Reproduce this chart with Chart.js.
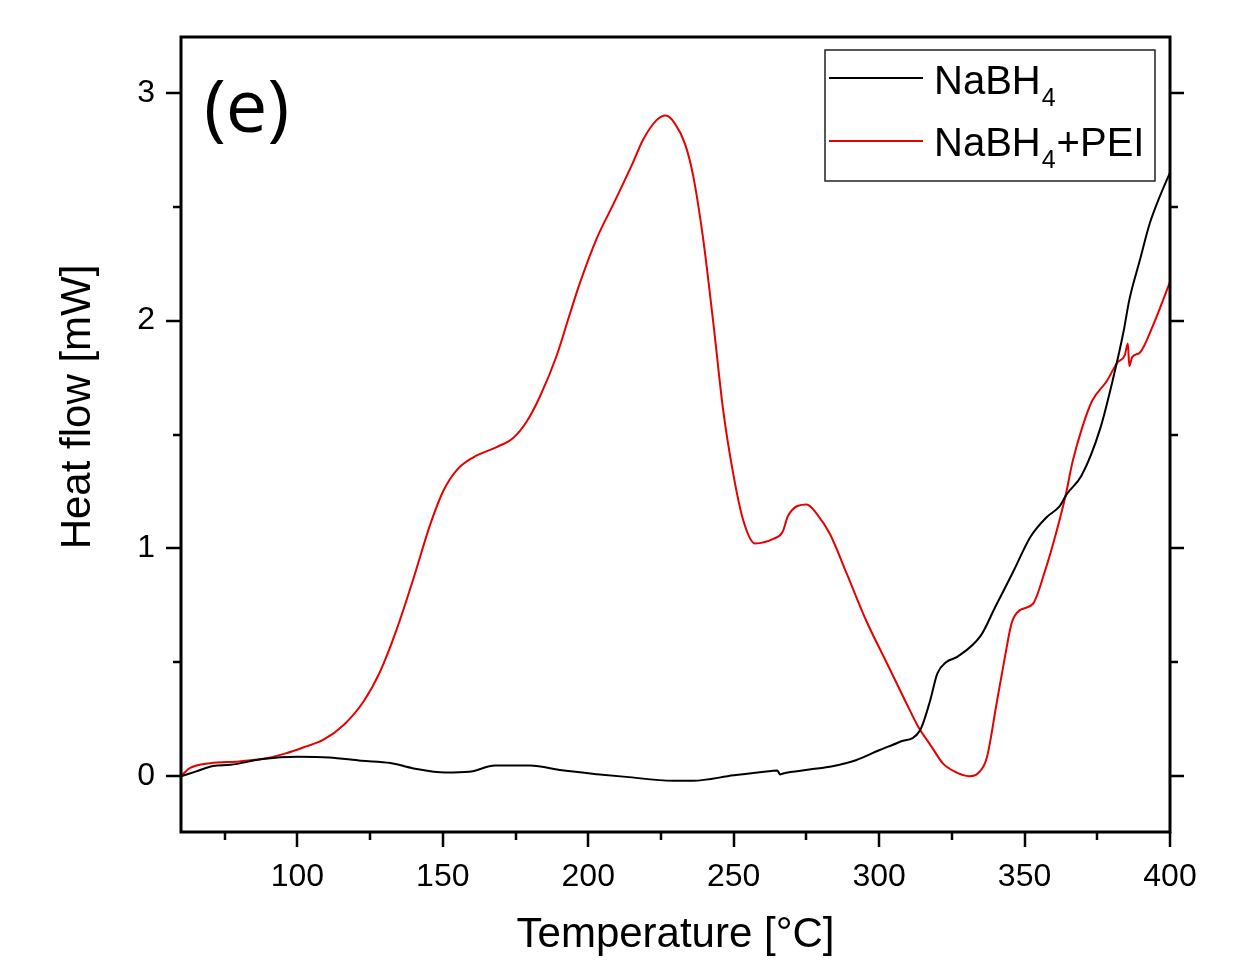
<!DOCTYPE html>
<html><head><meta charset="utf-8">
<script src="https://cdn.jsdelivr.net/npm/chart.js@4.4.1/dist/chart.umd.min.js"></script>
<style>html,body{margin:0;padding:0;background:#fff}#wrap{width:1251px;height:964px;position:relative}</style>
</head><body><div id="wrap"><canvas id="c" width="1251" height="964"></canvas></div>
<script>
// ---- data ----
const tempBlack = [60,65,71,77,88,100,111,122,132,140,151,159,168,180,191,203,213,229,236,250,263,265,266,267,276,284,292,300,307,314,317.5,320,323,327,335,340,346,352,357.6,362,364.5,369.6,376,380.5,384,386,389.7,393,396.5,400];
const heatBlack = [0,0.02,0.045,0.05,0.075,0.085,0.082,0.068,0.058,0.034,0.016,0.019,0.047,0.047,0.026,0.009,-0.003,-0.02,-0.02,0.004,0.023,0.025,0.007,0.012,0.029,0.044,0.07,0.114,0.15,0.2,0.33,0.45,0.5,0.525,0.618,0.745,0.895,1.05,1.137,1.184,1.238,1.32,1.526,1.749,1.95,2.09,2.268,2.425,2.545,2.65];
const tempRed = [60,63,70,80,90,96,102,109,116,122.7,128.4,134,140,145.6,150.2,154.8,160.5,168.5,174.2,178.8,183.4,189.2,193.7,197,202.9,208.6,214.9,218.9,223.5,226.7,229.8,233.3,236.1,239.6,243,246.4,249.9,253.3,257.3,263.6,266.8,268.7,275.1,278.5,283.1,288.8,295.7,302.6,309.5,313.5,318,322,326,331,334,337,340.4,343.3,345.6,348.4,352.9,357,361.1,364.2,366.5,369.7,373.2,378.3,381.8,384.5,385.5,386,387,389.7,394.2,400];
const heatRed = [0,0.035,0.057,0.065,0.08,0.1,0.126,0.16,0.226,0.327,0.458,0.639,0.871,1.102,1.253,1.344,1.4,1.445,1.485,1.556,1.667,1.848,2.03,2.16,2.36,2.51,2.68,2.795,2.88,2.9,2.865,2.775,2.634,2.35,1.99,1.606,1.324,1.123,1.022,1.042,1.072,1.143,1.193,1.153,1.063,0.891,0.679,0.498,0.317,0.216,0.13,0.055,0.02,0.0,0.013,0.08,0.32,0.527,0.674,0.729,0.757,0.9,1.08,1.238,1.38,1.526,1.647,1.735,1.814,1.85,1.9,1.8,1.84,1.86,1.98,2.17];
const seriesLabels = ['NaBH\u2084', 'NaBH\u2084+PEI'];
const seriesColors = ['#000000', '#e60000'];
const xTicks = [100,150,200,250,300,350,400];
const xMinorTicks = [75,125,175,225,275,325,375];
const yTicks = [0,1,2,3];
const yMinorTicks = [0.5,1.5,2.5];
const panelLabel = '(e)';
const xTitle = 'Temperature [\u00B0C]';
const yTitle = 'Heat flow [mW]';

const AR = '"Liberation Sans", Arial, sans-serif';

const framePlugin = {
  id: 'frame',
  afterDatasetsDraw(chart) {
    const {ctx, chartArea: a, scales: {x, y}} = chart;
    ctx.save();
    ctx.strokeStyle = '#000';
    ctx.lineWidth = 3;
    ctx.strokeRect(a.left, a.top, a.right - a.left, a.bottom - a.top);
    ctx.lineWidth = 2.5;
    ctx.beginPath();
    const tick = (x1, y1, x2, y2) => { ctx.moveTo(x1, y1); ctx.lineTo(x2, y2); };
    xTicks.forEach(v => { const p = Math.round(x.getPixelForValue(v)); tick(p, a.bottom, p, a.bottom + 15); });
    xMinorTicks.forEach(v => { const p = Math.round(x.getPixelForValue(v)); tick(p, a.bottom, p, a.bottom + 8); });
    yTicks.forEach(v => { const p = Math.round(y.getPixelForValue(v)); tick(a.left, p, a.left - 15, p); tick(a.right, p, a.right + 14, p); });
    yMinorTicks.forEach(v => { const p = Math.round(y.getPixelForValue(v)); tick(a.left, p, a.left - 8, p); tick(a.right, p, a.right + 8, p); });
    ctx.stroke();

    // y-axis title (placed off-centre as in the reference)
    ctx.fillStyle = '#000';
    ctx.save();
    ctx.translate(78, 407);
    ctx.rotate(-Math.PI / 2);
    ctx.font = '42px ' + AR;
    ctx.textAlign = 'center';
    ctx.textBaseline = 'middle';
    ctx.fillText(yTitle, 0, 0);
    ctx.restore();

    // panel label
    ctx.font = '74px "Open Sans", sans-serif';
    ctx.textBaseline = 'alphabetic';
    ctx.textAlign = 'left';
    ctx.fillText(panelLabel, 204, 132);

    // legend
    const lx = 825, ly = 50, lw = 330, lh = 131;
    ctx.lineWidth = 1.5;
    ctx.strokeStyle = '#222';
    ctx.fillStyle = '#fff';
    ctx.fillRect(lx, ly, lw, lh);
    ctx.strokeRect(lx, ly, lw, lh);
    const rows = [{lineY: 78, base: 94}, {lineY: 141, base: 156}];
    chart.data.datasets.forEach((ds, i) => {
      const r = rows[i];
      ctx.strokeStyle = ds.borderColor;
      ctx.lineWidth = 2;
      ctx.beginPath(); ctx.moveTo(829, r.lineY); ctx.lineTo(923, r.lineY); ctx.stroke();
      ctx.fillStyle = '#000';
      let cx = 934;
      const parts = ds.label.split('\u2084');
      parts.forEach((txt, k) => {
        ctx.font = '40px ' + AR;
        ctx.fillText(txt, cx, r.base);
        cx += ctx.measureText(txt).width;
        if (k < parts.length - 1) {
          ctx.font = '25px ' + AR;
          ctx.fillText('4', cx + 1, r.base + 12);
          cx += ctx.measureText('4').width + 2;
        }
      });
    });
    ctx.restore();
  }
};

new Chart(document.getElementById('c'), {
  type: 'line',
  data: {
    datasets: [
      { label: seriesLabels[0], data: tempBlack.map((t, i) => ({x: t, y: heatBlack[i]})), borderColor: seriesColors[0], borderWidth: 2, pointRadius: 0, cubicInterpolationMode: 'monotone' },
      { label: seriesLabels[1], data: tempRed.map((t, i) => ({x: t, y: heatRed[i]})), borderColor: seriesColors[1], borderWidth: 2, pointRadius: 0, cubicInterpolationMode: 'monotone' }
    ]
  },
  options: {
    responsive: false,
    animation: false,
    events: [],
    layout: { padding: { top: 37, right: 81, left: 0, bottom: 0 } },
    plugins: { legend: { display: false }, tooltip: { enabled: false } },
    scales: {
      x: {
        type: 'linear', min: 60, max: 400,
        afterFit: s => { s.height = 132; s.paddingLeft = 0; s.paddingRight = 0; s.paddingTop = 0; s.paddingBottom = 0; },
        afterBuildTicks: s => { s.ticks = xTicks.map(v => ({value: v})); },
        grid: { display: false, drawTicks: false },
        border: { display: false },
        ticks: { color: '#000', font: { family: AR, size: 32 }, padding: 26, maxRotation: 0, autoSkip: false },
        title: { display: true, text: xTitle, color: '#000', font: { family: AR, size: 42 }, padding: { top: 0, bottom: 3 } }
      },
      y: {
        type: 'linear', min: -0.245, max: 3.245,
        afterFit: s => { s.width = 181; s.paddingLeft = 0; s.paddingRight = 0; s.paddingTop = 0; s.paddingBottom = 0; },
        afterBuildTicks: s => { s.ticks = yTicks.map(v => ({value: v})); },
        grid: { display: false, drawTicks: false },
        border: { display: false },
        ticks: { color: '#000', font: { family: AR, size: 32 }, padding: 26 },
        title: { display: false }
      }
    }
  },
  plugins: [framePlugin]
});
</script>
</body></html>
